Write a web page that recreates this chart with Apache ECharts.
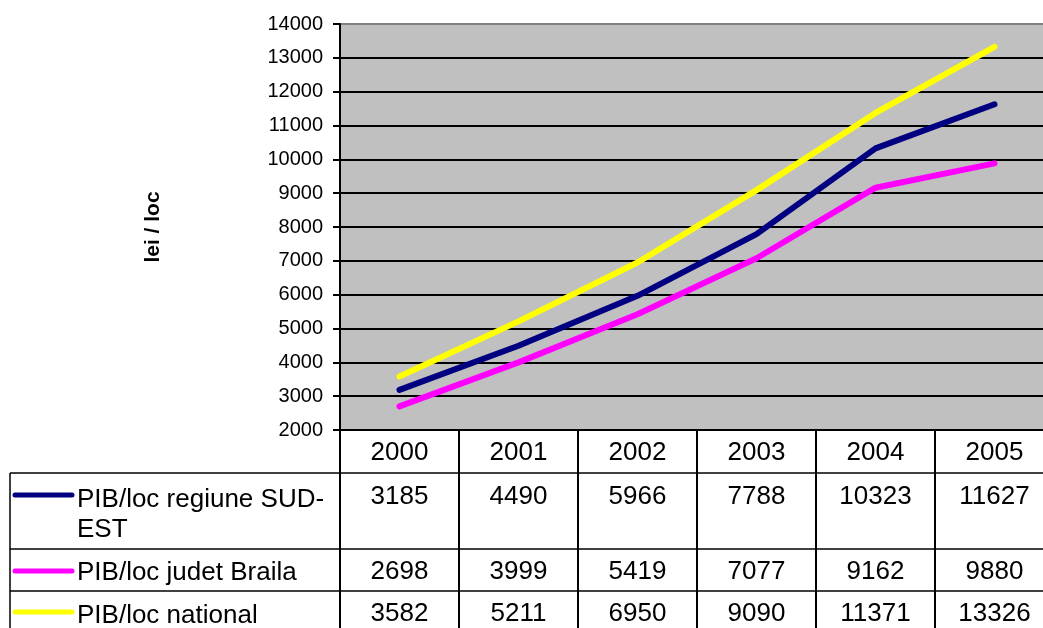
<!DOCTYPE html>
<html><head><meta charset="utf-8">
<script src="https://cdn.jsdelivr.net/npm/echarts@6/dist/echarts.min.js"></script>
<style>html,body{margin:0;padding:0;background:#fff}#c{width:1043px;height:628px}</style>
</head><body><div id="c"></div>
<script>
const categories = ['2000', '2001', '2002', '2003', '2004', '2005'];
const seriesNames = ['PIB/loc regiune SUD-EST', 'PIB/loc judet Braila', 'PIB/loc national'];
const tableLabels = ['PIB/loc regiune SUD-\nEST', 'PIB/loc judet Braila', 'PIB/loc national'];
const regiune = [3185, 4490, 5966, 7788, 10323, 11627];
const braila = [2698, 3999, 5419, 7077, 9162, 9880];
const national = [3582, 5211, 6950, 9090, 11371, 13326];
const yTicks = [2000, 3000, 4000, 5000, 6000, 7000, 8000, 9000, 10000, 11000, 12000, 13000, 14000];
const yAxisName = 'lei / loc';

const seriesData = [regiune, braila, national];
const colors = ['#000080', '#ff00ff', '#ffff00'];
const FONT = "'Liberation Sans', Arial, sans-serif";
const gridTop = 24, gridBottomY = 430, H = 628;
const rowCenters = [497, 572, 614];
const rowLines = [473, 549, 591];
const legendLineY = [495, 571, 612];
const legendTextY = [515, 573, 616];

const chart = echarts.init(document.getElementById('c'), null, {renderer: 'canvas'});

const xAxes = [{
  type: 'category', data: categories, boundaryGap: true, position: 'bottom',
  axisLine: {show: true, lineStyle: {color: '#000', width: 2}},
  axisTick: {show: true, inside: false, length: H - gridBottomY, interval: 0, lineStyle: {color: '#000', width: 2}},
  axisLabel: {interval: 0, color: '#000', fontSize: 26, fontFamily: FONT, margin: 23, verticalAlign: 'middle'},
  splitLine: {show: false}
}];
seriesData.forEach((d, i) => {
  xAxes.push({
    type: 'category', data: d.map(String), boundaryGap: true, position: 'bottom',
    offset: rowCenters[i] - gridBottomY,
    axisLine: {show: false}, axisTick: {show: false}, splitLine: {show: false},
    axisLabel: {interval: 0, color: '#000', fontSize: 26, fontFamily: FONT, margin: 0, verticalAlign: 'middle'}
  });
});

const splitColors = yTicks.map((v, i) => i === yTicks.length - 1 ? '#808080' : '#000');

const graphics = [];
rowLines.forEach(y => graphics.push({type: 'line', shape: {x1: 10, y1: y, x2: 1043, y2: y}, style: {stroke: '#000', lineWidth: 1.5}, z: 10}));
graphics.push({type: 'line', shape: {x1: 10, y1: rowLines[0], x2: 10, y2: H}, style: {stroke: '#000', lineWidth: 1.5}, z: 10});
tableLabels.forEach((t, i) => {
  graphics.push({type: 'line', shape: {x1: 15, y1: legendLineY[i], x2: 72, y2: legendLineY[i]},
    style: {stroke: colors[i], lineWidth: 5, lineCap: 'round'}, z: 10});
  graphics.push({type: 'text', x: 77, y: legendTextY[i],
    style: {text: t, font: '26px ' + FONT, fill: '#000', verticalAlign: 'middle', lineHeight: 30}, z: 10});
});

chart.setOption({
  animation: false,
  backgroundColor: '#fff',
  grid: {left: 340, top: gridTop, height: gridBottomY - gridTop, width: 714, show: true, backgroundColor: '#c0c0c0', borderWidth: 0, containLabel: false, outerBoundsMode: 'none'},
  xAxis: xAxes,
  yAxis: {
    type: 'value', min: yTicks[0], max: yTicks[yTicks.length - 1], interval: 1000,
    name: yAxisName, nameLocation: 'middle', nameRotate: 90, nameGap: 176,
    nameTextStyle: {color: '#000', fontSize: 21, fontWeight: 'bold', fontFamily: FONT},
    axisLine: {show: true, lineStyle: {color: '#000', width: 2}},
    axisTick: {show: true, inside: false, length: 7, lineStyle: {color: '#000', width: 2}},
    axisLabel: {color: '#000', fontSize: 20, fontFamily: FONT, margin: 17, formatter: v => String(v)},
    splitLine: {show: true, lineStyle: {color: splitColors, width: 2}}
  },
  series: seriesData.map((d, i) => ({
    name: seriesNames[i], type: 'line', data: d, xAxisIndex: 0,
    showSymbol: false, symbol: 'none',
    lineStyle: {color: colors[i], width: 6, cap: 'round', join: 'round'},
    itemStyle: {color: colors[i]}, z: 3 + i
  })),
  graphic: graphics
});
</script></body></html>
